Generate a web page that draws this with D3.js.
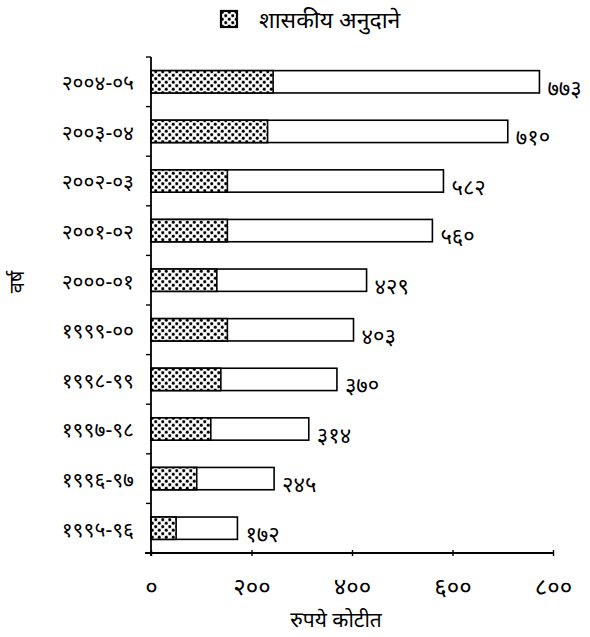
<!DOCTYPE html>
<html><head><meta charset="utf-8">
<script src="https://cdn.jsdelivr.net/npm/d3@7"></script>
<style>body{margin:0;background:#fff}svg{display:block}text{font-family:"Noto Sans","Noto Sans Devanagari",sans-serif;fill:#000}</style>
</head><body><div id="chart"></div>
<script>
const categories = ["२००४-०५","२००३-०४","२००२-०३","२००१-०२","२०००-०१","१९९९-००","१९९८-९९","१९९७-९८","१९९६-९७","१९९५-९६"];
const totals = [773, 710, 582, 560, 429, 403, 370, 314, 245, 172];
const grants = [243, 232, 152, 152, 131, 152, 139, 119, 91, 50];
const xTicks = [0, 200, 400, 600, 800];
const legendLabel = "शासकीय अनुदाने";
const xTitle = "रुपये कोटीत";
const yTitle = "वर्ष";

const devDigits = "०१२३४५६७८९";
const toDev = n => String(n).replace(/[0-9]/g, d => devDigits[+d]);

const W = 590, H = 637;
const svg = d3.select("#chart").append("svg").attr("width", W).attr("height", H);
const defs = svg.append("defs");
const pat = defs.append("pattern").attr("id", "dots").attr("patternUnits", "userSpaceOnUse")
  .attr("width", 7).attr("height", 7);
pat.append("rect").attr("width", 7).attr("height", 7).attr("fill", "#fff");
pat.append("rect").attr("x", 0).attr("y", 0).attr("width", 3.5).attr("height", 3.5).attr("fill", "#c8c8c8");
pat.append("rect").attr("x", 3.5).attr("y", 3.5).attr("width", 3.5).attr("height", 3.5).attr("fill", "#c8c8c8");
pat.append("circle").attr("cx", 1.75).attr("cy", 1.75).attr("r", 1.4).attr("fill", "#000");
pat.append("circle").attr("cx", 5.25).attr("cy", 5.25).attr("r", 1.4).attr("fill", "#000");

const x = d3.scaleLinear().domain([0, 800]).range([151, 553]);
const y = d3.scaleBand().domain(categories).range([57, 553]).paddingInner(0.55).paddingOuter(0.275);

// bars
const g = svg.append("g");
g.selectAll("rect.total").data(categories).join("rect").attr("class", "total")
  .attr("x", x(0)).attr("y", d => y(d)).attr("height", y.bandwidth())
  .attr("width", (d, i) => x(totals[i]) - x(0))
  .attr("fill", "#fff").attr("stroke", "#000").attr("stroke-width", 1.6);
g.selectAll("rect.grant").data(categories).join("rect").attr("class", "grant")
  .attr("x", x(0)).attr("y", d => y(d)).attr("height", y.bandwidth())
  .attr("width", (d, i) => x(grants[i]) - x(0))
  .attr("fill", "url(#dots)").attr("stroke", "#000").attr("stroke-width", 1.6);

// value labels
g.selectAll("text.val").data(categories).join("text").attr("class", "val")
  .attr("x", (d, i) => x(totals[i]) + 8).attr("y", d => y(d) + y.bandwidth() / 2 + 6)
  .attr("dy", "0.35em").style("font-size", "22px").text((d, i) => toDev(totals[i]));

// y axis
const yAxisG = svg.append("g");
yAxisG.append("line").attr("x1", x(0)).attr("x2", x(0)).attr("y1", 57).attr("y2", 556)
  .attr("stroke", "#000").attr("stroke-width", 1.8);
const bounds = categories.map(d => y(d) - y.step() * y.paddingInner() / 2);
bounds.push(553);
yAxisG.selectAll("line.tk").data(bounds).join("line").attr("class", "tk")
  .attr("x1", x(0) - 5).attr("x2", x(0)).attr("y1", d => d).attr("y2", d => d)
  .attr("stroke", "#000").attr("stroke-width", 1.4);
yAxisG.selectAll("text").data(categories).join("text")
  .attr("x", 134).attr("y", d => y(d) + y.bandwidth() / 2 + 1).attr("dy", "0.35em")
  .attr("text-anchor", "end").style("font-size", "21px").text(d => d);

// x axis
const xAxisG = svg.append("g").attr("transform", "translate(0,553)");
xAxisG.call(d3.axisBottom(x).tickValues(xTicks).tickSize(4).tickFormat(toDev));
xAxisG.select(".domain").attr("stroke-width", 1.8).attr("d", `M${x(0) - 6},0H${x(800)}`);
xAxisG.selectAll(".tick line").attr("y1", -3).attr("y2", 3).attr("stroke-width", 1.4);
xAxisG.selectAll(".tick text").attr("y", 34).attr("dy", "0.35em").style("font-size", "24px")
  .attr("fill", "#000");

// titles
svg.append("text").attr("x", 336).attr("y", 627).attr("text-anchor", "middle")
  .style("font-size", "21px").text(xTitle);
svg.append("text").attr("transform", "translate(24,282) rotate(-90)").attr("text-anchor", "middle")
  .style("font-size", "20px").text(yTitle);

// legend
svg.append("rect").attr("x", 221).attr("y", 11).attr("width", 16).attr("height", 16)
  .attr("fill", "url(#dots)").attr("stroke", "#000").attr("stroke-width", 2.2);
svg.append("text").attr("x", 259).attr("y", 20).attr("dy", "0.35em").style("font-size", "23px").text(legendLabel);
</script></body></html>
